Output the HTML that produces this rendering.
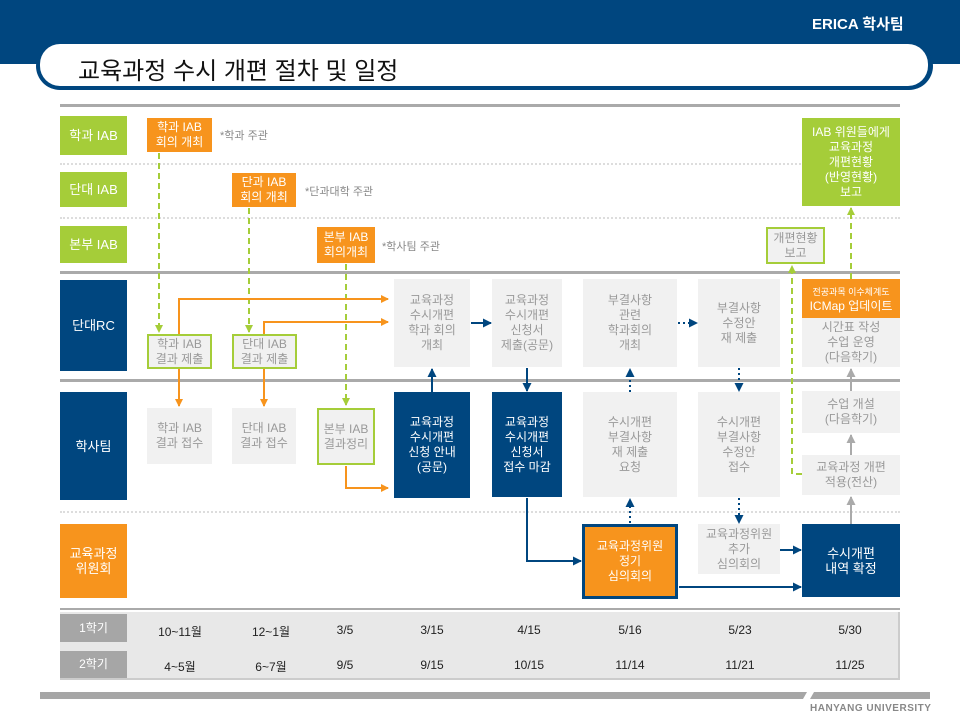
<!DOCTYPE html>
<html><head><meta charset="utf-8"><style>
*{margin:0;padding:0;box-sizing:border-box}
body{width:960px;height:720px;position:relative;background:#fff;font-family:"Liberation Sans","Noto Sans CJK KR",sans-serif;overflow:hidden}
.a{position:absolute}
.b{position:absolute;display:flex;align-items:center;justify-content:center;text-align:center;font-size:12px;line-height:15px}
.g{background:#f1f1f1;color:#999}
.n{background:#00467f;color:#fff}
.o{background:#f7941d;color:#fff}
.l{background:#a5cd39;color:#fff}
.gb{border:2px solid #a5cd39}
.lane{font-size:13px}
.note{position:absolute;font-size:11px;color:#888}
.t{position:absolute;font-size:12px;color:#222;transform:translateX(-50%)}
</style></head><body>
<div class="a" style="left:0;top:0;width:960px;height:64px;background:#00467f"></div>
<div class="a" style="left:812px;top:13px;color:#fff;font-weight:bold;font-size:15px">ERICA 학사팀</div>
<div class="a" style="left:36px;top:42px;width:897px;height:48px;background:#00467f;border-radius:24px"></div>
<div class="a" style="left:40px;top:44px;width:888px;height:42px;background:#fff;border-radius:20px"></div>
<div class="a" style="left:78px;top:51px;font-size:24px;color:#111">교육과정 수시 개편 절차 및 일정</div>
<div class="a" style="left:60px;top:104px;width:840px;height:3px;background:#aaa"></div>
<div class="a" style="left:60px;top:163px;width:840px;border-top:2px dotted #ddd"></div>
<div class="a" style="left:60px;top:217px;width:840px;border-top:2px dotted #ddd"></div>
<div class="a" style="left:60px;top:271px;width:840px;height:3px;background:#aaa"></div>
<div class="a" style="left:60px;top:379px;width:840px;height:3px;background:#aaa"></div>
<div class="a" style="left:60px;top:511px;width:840px;border-top:2px dotted #ddd"></div>
<div class="a" style="left:60px;top:608px;width:840px;height:2px;background:#aaa"></div>

<div class="b l lane" style="left:60px;top:116px;width:67px;height:39px">학과 IAB</div>
<div class="b l lane" style="left:60px;top:172px;width:67px;height:35px">단대 IAB</div>
<div class="b l lane" style="left:60px;top:226px;width:67px;height:37px">본부 IAB</div>
<div class="b n lane" style="left:60px;top:280px;width:67px;height:91px">단대RC</div>
<div class="b n lane" style="left:60px;top:392px;width:67px;height:108px">학사팀</div>
<div class="b o lane" style="left:60px;top:524px;width:67px;height:74px">교육과정<br>위원회</div>

<div class="b o" style="left:147px;top:118px;width:65px;height:34px">학과 IAB<br>회의 개최</div>
<div class="b o" style="left:232px;top:173px;width:64px;height:34px">단과 IAB<br>회의 개최</div>
<div class="b o" style="left:317px;top:227px;width:58px;height:36px">본부 IAB<br>회의개최</div>
<div class="note" style="left:220px;top:127px">*학과 주관</div>
<div class="note" style="left:305px;top:183px">*단과대학 주관</div>
<div class="note" style="left:382px;top:238px">*학사팀 주관</div>

<div class="b g gb" style="left:147px;top:334px;width:65px;height:35px">학과 IAB<br>결과 제출</div>
<div class="b g gb" style="left:232px;top:334px;width:65px;height:35px">단대 IAB<br>결과 제출</div>
<div class="b g" style="left:147px;top:408px;width:65px;height:56px">학과 IAB<br>결과 접수</div>
<div class="b g" style="left:232px;top:408px;width:64px;height:56px">단대 IAB<br>결과 접수</div>
<div class="b g gb" style="left:317px;top:408px;width:58px;height:57px">본부 IAB<br>결과정리</div>

<div class="b g" style="left:394px;top:279px;width:76px;height:88px">교육과정<br>수시개편<br>학과 회의<br>개최</div>
<div class="b n" style="left:394px;top:392px;width:76px;height:106px">교육과정<br>수시개편<br>신청 안내<br>(공문)</div>
<div class="b g" style="left:492px;top:279px;width:70px;height:88px">교육과정<br>수시개편<br>신청서<br>제출(공문)</div>
<div class="b n" style="left:492px;top:392px;width:70px;height:105px">교육과정<br>수시개편<br>신청서<br>접수 마감</div>
<div class="b g" style="left:583px;top:279px;width:94px;height:88px">부결사항<br>관련<br>학과회의<br>개최</div>
<div class="b g" style="left:698px;top:279px;width:82px;height:88px">부결사항<br>수정안<br>재 제출</div>
<div class="b g" style="left:583px;top:392px;width:94px;height:105px">수시개편<br>부결사항<br>재 제출<br>요청</div>
<div class="b g" style="left:698px;top:392px;width:82px;height:105px">수시개편<br>부결사항<br>수정안<br>접수</div>
<div class="b o" style="left:582px;top:524px;width:96px;height:75px;border:3px solid #00467f">교육과정위원<br>정기<br>심의회의</div>
<div class="b g" style="left:698px;top:524px;width:82px;height:50px">교육과정위원<br>추가<br>심의회의</div>
<div class="b n" style="left:802px;top:524px;width:98px;height:73px;font-size:13px">수시개편<br>내역 확정</div>
<div class="b g" style="left:802px;top:455px;width:98px;height:40px">교육과정 개편<br>적용(전산)</div>
<div class="b g" style="left:802px;top:391px;width:98px;height:42px">수업 개설<br>(다음학기)</div>
<div class="b g" style="left:802px;top:318px;width:98px;height:49px">시간표 작성<br>수업 운영<br>(다음학기)</div>
<div class="b o" style="left:802px;top:279px;width:98px;height:39px;line-height:14px"><span><span style="font-size:9px">전공과목 이수체계도</span><br>ICMap 업데이트</span></div>
<div class="b g gb" style="left:766px;top:227px;width:59px;height:37px">개편현황<br>보고</div>
<div class="b l" style="left:802px;top:118px;width:98px;height:88px">IAB 위원들에게<br>교육과정<br>개편현황<br>(반영현황)<br>보고</div>

<svg class="a" style="left:0;top:0" width="960" height="720">
<defs>
<marker id="ao" markerWidth="8" markerHeight="8" refX="7" refY="4" orient="auto" markerUnits="userSpaceOnUse"><path d="M0,0L8,4L0,8z" fill="#f7941d"/></marker>
<marker id="ag" markerWidth="8" markerHeight="8" refX="7" refY="4" orient="auto" markerUnits="userSpaceOnUse"><path d="M0,0L8,4L0,8z" fill="#a5cd39"/></marker>
<marker id="an" markerWidth="9" markerHeight="9" refX="8" refY="4.5" orient="auto" markerUnits="userSpaceOnUse"><path d="M0,0L9,4.5L0,9z" fill="#00467f"/></marker>
<marker id="ay" markerWidth="9" markerHeight="9" refX="8" refY="4.5" orient="auto" markerUnits="userSpaceOnUse"><path d="M0,0L9,4.5L0,9z" fill="#aaa"/></marker>
</defs>
<g fill="none" stroke="#a5cd39" stroke-width="2" stroke-dasharray="6,4">
<path d="M159 153V332" marker-end="url(#ag)"/>
<path d="M249 208V332" marker-end="url(#ag)"/>
<path d="M346 264V405" marker-end="url(#ag)"/>
<path d="M802 474H792V266" marker-end="url(#ag)"/>
<path d="M851 279V208" marker-end="url(#ag)"/>
</g>
<g fill="none" stroke="#f7941d" stroke-width="2">
<path d="M179 334V299H388" marker-end="url(#ao)"/>
<path d="M179 369V406" marker-end="url(#ao)"/>
<path d="M264 334V322H388" marker-end="url(#ao)"/>
<path d="M264 369V406" marker-end="url(#ao)"/>
<path d="M346 466V488H388" marker-end="url(#ao)"/>
</g>
<g fill="none" stroke="#00467f" stroke-width="2">
<path d="M432 392V369" marker-end="url(#an)"/>
<path d="M471 323H491" marker-end="url(#an)"/>
<path d="M527 368V391" marker-end="url(#an)"/>
<path d="M527 498V561H581" marker-end="url(#an)"/>
<path d="M780 550H801" marker-end="url(#an)"/>
<path d="M679 587H801" marker-end="url(#an)"/>
</g>
<g fill="none" stroke="#00467f" stroke-width="2" stroke-dasharray="2,3">
<path d="M678 323H697" marker-end="url(#an)"/>
<path d="M630 392V369" marker-end="url(#an)"/>
<path d="M630 523V499" marker-end="url(#an)"/>
<path d="M739 368V391" marker-end="url(#an)"/>
<path d="M739 498V523" marker-end="url(#an)"/>
</g>
<g fill="none" stroke="#aaa" stroke-width="2">
<path d="M851 524V497" marker-end="url(#ay)"/>
<path d="M851 455V435" marker-end="url(#ay)"/>
<path d="M851 391V369" marker-end="url(#ay)"/>
</g>
</svg>

<div class="a" style="left:60px;top:612px;width:840px;height:68px;background:#e8e8e8;border-right:2px solid #ccc;border-bottom:2px solid #ccc"></div>
<div class="b" style="left:60px;top:614px;width:67px;height:28px;background:#a6a6a6;color:#fff;font-size:12px">1학기</div>
<div class="b" style="left:60px;top:651px;width:67px;height:27px;background:#a6a6a6;color:#fff;font-size:12px">2학기</div>
<div class="t" style="left:180px;top:623px">10~11월</div><div class="t" style="left:271px;top:623px">12~1월</div><div class="t" style="left:345px;top:623px">3/5</div><div class="t" style="left:432px;top:623px">3/15</div><div class="t" style="left:529px;top:623px">4/15</div><div class="t" style="left:630px;top:623px">5/16</div><div class="t" style="left:740px;top:623px">5/23</div><div class="t" style="left:850px;top:623px">5/30</div>
<div class="t" style="left:180px;top:658px">4~5월</div><div class="t" style="left:271px;top:658px">6~7월</div><div class="t" style="left:345px;top:658px">9/5</div><div class="t" style="left:432px;top:658px">9/15</div><div class="t" style="left:529px;top:658px">10/15</div><div class="t" style="left:630px;top:658px">11/14</div><div class="t" style="left:740px;top:658px">11/21</div><div class="t" style="left:850px;top:658px">11/25</div>

<svg class="a" style="left:0;top:688px" width="960" height="14"><polygon points="40,4 807,4 803,11 40,11" fill="#a6a6a6"/><polygon points="814,4 930,4 930,11 810,11" fill="#a6a6a6"/></svg>
<div class="a" style="left:810px;top:703px;font-size:10px;color:#888;font-weight:bold;letter-spacing:0.5px">HANYANG UNIVERSITY</div>
</body></html>
